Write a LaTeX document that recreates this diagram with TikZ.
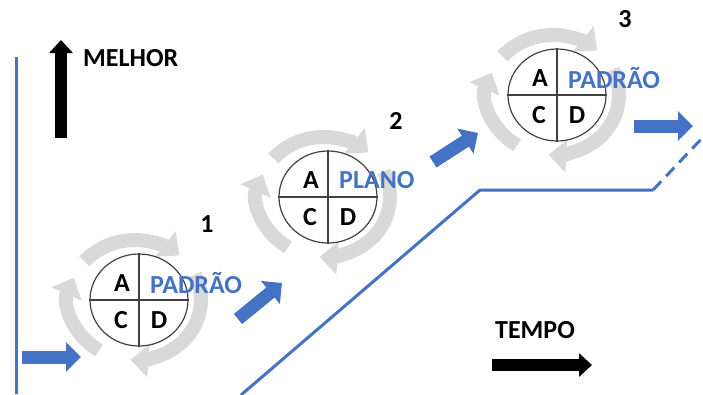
\documentclass[tikz,border=0pt]{standalone}
\usepackage{fontspec}
\setmainfont{Carlito}
\usepackage{tikz}
\usetikzlibrary{arrows.meta}
\usetikzlibrary{shapes.geometric}
\usetikzlibrary{calc}
\usepackage{xcolor}

\definecolor{pdcablue}{HTML}{4472C4}
\definecolor{ringgray}{HTML}{D9D9D9}
\definecolor{rimgray}{HTML}{404040}

\tikzset{
  lbl/.style={font=\bfseries\fontsize{26}{30}\selectfont},
  ring/.style={ringgray, line width=14pt, -{Triangle[length=18pt,width=32pt]}},
  bluearrow/.style={pdcablue, line width=13pt, -{Triangle[length=15pt,width=29pt]}},
  blackarrow/.style={black, line width=12pt, -{Triangle[length=13pt,width=23pt]}},
  stair/.style={pdcablue, line width=3pt}
}

% three grey arrows round one stage
\newcommand{\pdcaring}[1]{%
  \foreach \s/\e in {-140/-48, -25/94, 123/202}
    \draw[ring] ($(#1)+(-4,0)+(\s:66 and 60)$) arc[start angle=\s, end angle=\e, x radius=66, y radius=60];
}

% one stage: ring, circle, letters, label, number
\newcommand{\pdcastage}[4]{%
  \pdcaring{#2}
  \node[ellipse, draw=rimgray, line width=1.2pt, fill=white, minimum width=98pt, minimum height=92pt, inner sep=0pt] (#1) at (#2) {};
  \draw[rimgray, line width=1.2pt] (#1.north) -- (#1.south) (#1.west) -- (#1.east);
  \node[lbl] (#1a) at ([shift={(-17,-17)}]#1.center) {A};
  \node[lbl] (#1c) at ([shift={(-18,20)}]#1.center) {C};
  \node[lbl] (#1d) at ([shift={(20,20)}]#1.center) {D};
  \node[lbl, text=pdcablue, anchor=west, inner sep=0pt] (#1t) at ([shift={(11,-17)}]#1.center) {#3};
  \node[lbl] (#1n) at ([shift={(68,-76)}]#1.center) {#4};
}

\begin{document}
\begin{tikzpicture}[x=1pt, y=-1pt]
\useasboundingbox (0,0) rectangle (703,394);

% blue guide lines
\coordinate (vtop) at (16,57);
\coordinate (vbot) at (16,394);
\draw[stair] (vtop) -- (vbot);
\coordinate (s0) at (241,395);
\coordinate (s1) at (480,190);
\coordinate (s2) at (653,190);
\coordinate (s3) at (706,134);
\draw[stair] (s0) -- (s1) -- (s2);
\draw[stair, dash pattern=on 12pt off 7pt] (s2) -- (s3);

% stages
\pdcastage{p1}{139,300}{PADRÃO}{1}
\pdcastage{p2}{328,197}{PLANO}{2}
\pdcastage{p3}{557,95}{PADRÃO}{3}

% blue block arrows
\coordinate (b0a) at (22,357);
\coordinate (b0b) at (81,357);
\draw[bluearrow] (b0a) -- (b0b);
\coordinate (b1a) at (238,319);
\coordinate (b1b) at (282,283);
\draw[bluearrow] (b1a) -- (b1b);
\coordinate (b2a) at (433,162);
\coordinate (b2b) at (478,133);
\draw[bluearrow] (b2a) -- (b2b);
\coordinate (b3a) at (634,126);
\coordinate (b3b) at (693,126);
\draw[bluearrow] (b3a) -- (b3b);

% axes
\coordinate (ma) at (61,138);
\coordinate (mb) at (61,40);
\draw[blackarrow] (ma) -- (mb);
\node[lbl, anchor=west, inner sep=0pt] (melhor) at (83,58) {MELHOR};
\node[lbl] (tempo) at (535,330) {TEMPO};
\coordinate (ta) at (492,365);
\coordinate (tb) at (592,365);
\draw[blackarrow] (ta) -- (tb);
\end{tikzpicture}
\end{document}
